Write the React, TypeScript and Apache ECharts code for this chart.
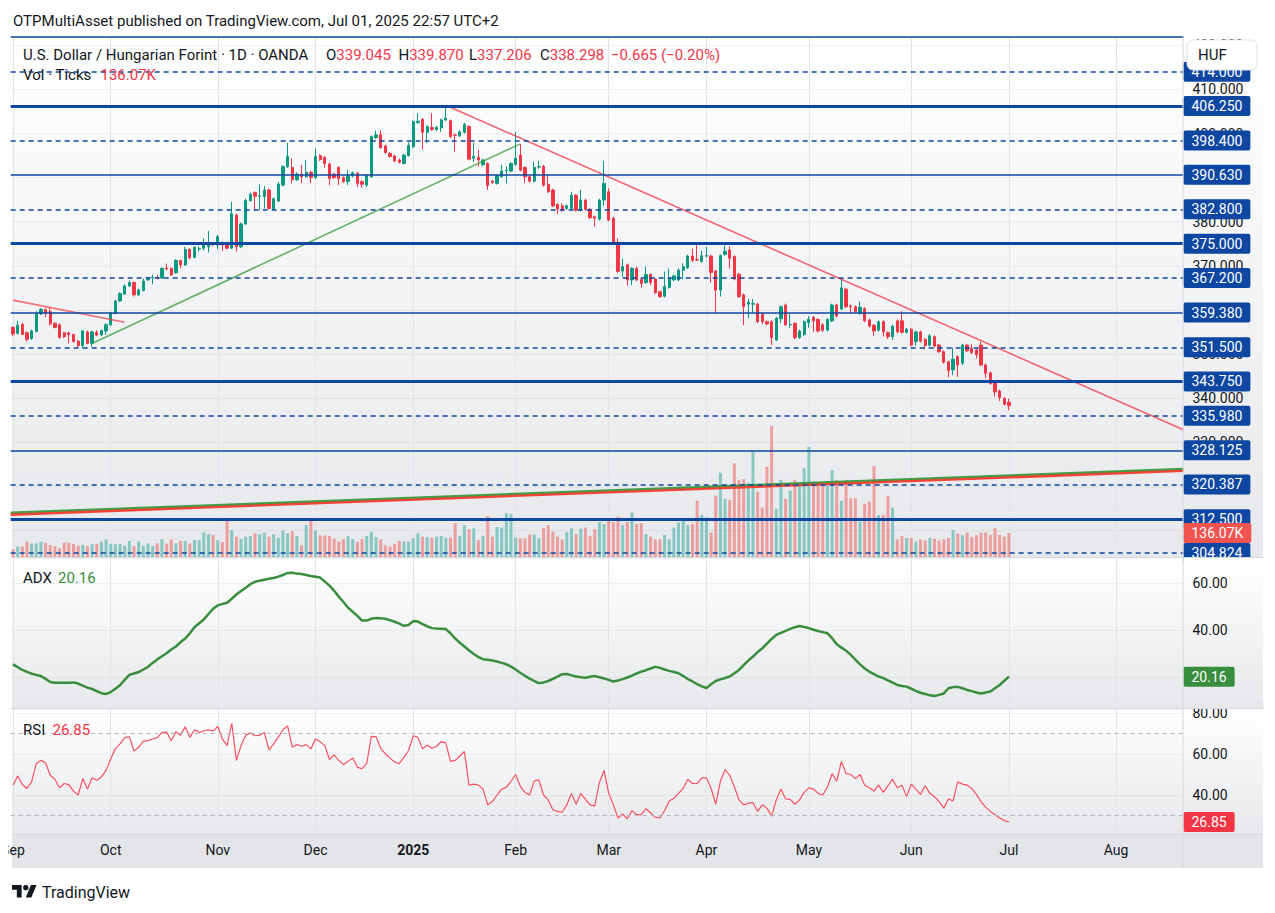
import React, { useEffect, useRef } from 'react';
import * as echarts from 'echarts';

// ---------- data ----------
const START_DATE = '2024-09-02';
const HOLIDAYS = ['2024-12-25', '2025-01-01'];
const CATEGORY_COUNT = 252;
const MONTH_NAMES = ['Jan', 'Feb', 'Mar', 'Apr', 'May', 'Jun', 'Jul', 'Aug', 'Sep', 'Oct', 'Nov', 'Dec'];

// [open, close, low, high]
const CANDLES: number[][] = [
  [356.0,354.5,354.0,356.3],[354.7,356.5,354.4,357.5],[356.7,354.4,354.3,357.0],[354.8,353.3,352.8,355.1],[353.5,355.2,353.2,355.5],
  [355.1,359.2,354.9,359.7],[359.1,360.1,358.8,360.4],[360.1,359.2,358.4,360.3],[359.6,356.8,356.5,360.5],[356.9,356.0,355.8,357.2],
  [356.6,353.7,353.5,356.9],[354.8,353.9,353.6,355.0],[354.8,354.4,352.4,355.0],[354.4,352.8,352.6,354.6],[352.9,351.9,351.4,353.2],
  [351.9,355.2,351.3,355.4],[355.0,352.4,352.2,355.3],[352.4,355.0,351.6,355.3],[354.9,354.3,354.0,355.4],[354.3,355.3,354.1,355.5],
  [355.2,356.6,354.3,357.0],[356.6,359.2,356.4,359.5],[359.2,362.0,359.0,362.3],[362.0,363.7,361.8,364.0],[363.6,365.4,363.4,365.8],
  [365.4,366.2,365.2,366.7],[366.2,363.4,363.0,366.4],[363.4,364.5,363.2,364.8],[364.4,366.5,364.2,367.1],[366.8,367.0,366.6,367.5],
  [367.3,367.4,365.8,368.0],[367.3,367.2,366.9,367.9],[367.2,369.4,367.0,369.6],[369.5,369.3,369.0,370.5],[369.4,367.9,367.7,369.6],
  [368.4,371.2,368.2,371.5],[371.2,370.2,369.4,371.4],[370.2,373.7,370.0,374.3],[373.7,371.8,371.5,374.0],[371.9,374.2,371.7,374.4],
  [373.8,373.9,373.2,374.4],[374.0,374.9,373.5,376.2],[374.3,375.2,373.0,377.9],[375.1,374.8,374.5,375.3],[374.7,376.6,373.8,377.0],
  [374.8,374.7,373.3,375.5],[374.9,374.0,373.7,375.2],[374.0,381.8,373.8,384.5],[381.5,374.3,373.2,381.8],[374.3,379.5,374.0,379.8],
  [379.5,384.8,379.3,385.2],[384.8,386.2,384.6,386.6],[386.6,385.8,382.6,386.9],[385.8,385.9,382.6,388.5],[385.7,387.2,383.0,388.1],
  [387.2,383.0,382.8,387.5],[382.9,385.2,382.7,385.5],[384.7,388.5,384.5,389.0],[388.3,392.5,388.0,392.8],[392.5,394.8,392.2,397.9],
  [392.3,389.5,388.7,394.4],[389.5,390.8,389.2,391.2],[390.8,390.2,388.7,392.9],[390.2,391.2,390.0,394.0],[391.2,390.0,388.7,391.5],
  [390.0,394.8,389.7,396.6],[395.0,394.1,393.8,395.3],[394.6,393.2,392.3,394.9],[393.1,389.8,388.3,393.4],[390.8,390.0,389.7,391.1],
  [392.3,389.8,388.3,392.6],[390.0,389.1,388.8,390.3],[389.1,390.4,388.3,391.7],[390.4,391.1,390.1,391.4],[391.0,388.7,387.9,391.3],
  [389.1,388.5,387.7,389.4],[388.3,390.4,387.9,390.7],[390.2,399.3,390.0,399.6],[399.1,399.7,398.8,400.7],[399.7,396.8,396.5,400.8],
  [397.2,395.7,395.4,397.5],[395.5,394.8,394.5,395.8],[394.9,393.8,393.5,395.2],[394.0,393.5,393.2,394.3],[393.2,395.1,393.0,395.4],
  [395.0,397.3,394.8,398.0],[397.0,402.7,396.8,403.0],[402.5,402.8,402.2,404.6],[403.2,400.3,396.4,403.5],[400.3,401.6,397.8,401.9],
  [401.4,400.9,400.6,404.6],[400.9,401.4,400.6,401.7],[401.3,403.1,400.4,403.4],[403.1,403.5,402.8,406.3],[402.9,399.3,399.0,403.2],
  [399.7,399.6,395.9,400.0],[399.5,400.4,399.2,400.7],[400.3,402.1,400.0,402.4],[401.6,394.2,393.9,401.9],[394.4,394.8,393.5,397.9],
  [394.6,394.0,392.5,396.3],[392.9,394.0,392.6,394.3],[393.2,388.2,387.2,393.5],[389.2,388.9,388.6,389.5],[388.7,390.4,388.4,390.7],
  [390.2,391.5,390.0,392.9],[391.6,391.7,388.7,392.6],[391.5,393.2,391.2,393.5],[393.0,394.4,392.7,400.4],[395.1,391.7,391.4,397.6],
  [392.3,390.2,388.7,392.6],[390.2,389.2,388.9,390.5],[389.2,392.3,388.9,393.6],[392.4,392.5,392.0,393.8],[392.6,388.3,388.0,392.9],
  [388.5,386.8,386.5,390.7],[387.2,383.6,383.3,387.5],[383.9,382.9,381.7,384.2],[383.6,382.6,382.3,384.2],[383.0,383.6,382.7,383.9],
  [383.0,386.0,382.7,386.8],[386.0,382.6,382.3,386.3],[382.6,384.9,382.3,387.2],[384.9,382.8,382.5,385.2],[382.8,380.9,380.6,383.1],
  [381.1,380.8,378.9,381.4],[380.6,384.9,380.3,385.2],[384.9,388.7,383.6,393.8],[386.8,380.4,380.1,387.6],[380.8,375.1,374.8,381.1],
  [375.3,368.7,368.4,376.2],[368.8,369.8,367.5,371.6],[370.2,366.8,365.5,370.5],[366.8,369.4,365.6,369.7],[369.4,366.8,366.5,369.7],
  [366.9,366.0,365.0,367.2],[366.2,368.0,365.9,369.8],[368.0,366.2,365.6,368.3],[367.0,363.9,363.6,367.3],[364.1,363.0,362.7,364.4],
  [363.1,365.3,362.8,368.7],[365.1,367.2,364.8,369.4],[366.8,367.7,366.5,368.0],[366.8,369.0,366.5,369.4],[369.0,369.8,367.0,370.6],
  [369.6,372.2,369.3,372.5],[372.2,371.2,370.9,373.9],[371.4,371.3,371.1,374.7],[371.0,372.3,370.7,373.4],[372.2,372.3,371.9,374.3],
  [372.2,368.5,366.2,372.5],[368.8,364.5,359.2,369.1],[364.5,372.3,363.0,372.6],[372.6,373.3,372.3,374.6],[373.6,371.7,369.4,374.4],
  [372.1,367.0,366.7,372.4],[368.1,363.0,362.7,368.4],[363.4,360.7,356.5,363.7],[361.3,361.7,358.1,362.5],[361.3,361.4,359.2,362.5],
  [361.3,357.3,357.0,361.6],[359.0,357.3,356.8,359.3],[357.3,356.8,356.5,357.6],[357.3,353.7,352.0,357.6],[353.2,358.1,352.9,358.4],
  [358.0,360.7,357.0,361.0],[361.1,356.6,356.3,361.4],[356.6,356.7,355.9,359.3],[356.9,353.7,353.4,357.2],[353.7,355.2,353.4,355.5],
  [354.4,357.3,354.1,357.6],[357.1,357.9,355.9,358.6],[358.3,357.5,355.0,358.6],[357.8,355.2,354.9,358.1],[356.6,355.4,355.0,357.0],
  [355.4,357.8,355.1,358.1],[357.5,361.1,357.2,361.4],[361.1,358.6,358.3,361.4],[360.2,365.0,359.9,366.9],[364.7,360.7,360.4,365.0],
  [360.9,360.7,359.2,361.2],[360.7,359.6,359.3,361.0],[359.2,360.6,358.9,361.9],[360.3,357.5,357.2,360.6],[357.7,356.3,356.0,358.0],
  [356.5,355.2,354.1,356.8],[355.4,357.3,355.1,357.6],[357.3,355.0,353.9,357.6],[354.8,353.9,353.4,355.1],[353.9,356.3,353.2,356.6],
  [357.5,355.0,354.7,357.8],[357.5,354.9,354.6,359.7],[354.9,355.6,354.6,355.9],[355.6,352.0,351.7,355.9],[352.8,355.0,351.8,355.3],
  [355.0,352.9,352.6,355.3],[353.3,351.9,351.0,353.6],[352.0,354.1,351.7,354.5],[353.9,351.8,351.5,354.2],[352.0,350.5,350.2,352.3],
  [350.5,348.1,347.8,350.8],[348.2,346.2,344.7,348.5],[346.4,348.8,345.2,351.4],[349.4,347.5,344.8,349.7],[347.9,352.0,347.5,352.3],
  [352.0,350.7,350.4,352.3],[351.3,350.3,350.0,352.2],[350.9,349.8,349.0,351.2],[352.0,347.5,347.2,352.8],[347.5,345.6,344.5,347.8],
  [345.7,343.3,343.0,346.0],[343.7,341.4,340.3,344.0],[341.6,340.1,339.3,341.9],[339.9,338.6,338.3,340.2],[339.045,338.298,337.206,339.87],
];

// volume in thousands of ticks
const VOLUMES_K: number[] = [
  45,59,59,87,77,77,87,81,68,62, 49,81,81,74,64,68,62,74,74,87,
  100,74,72,74,64,91,62,87,64,77, 62,77,102,74,100,77,91,91,77,96,
  96,140,130,125,96,85,204,153,115,104, 115,119,134,130,138,115,129,110,151,134,
  147,119,66,181,206,149,123,123,119,104, 87,100,119,102,87,102,119,142,112,100,
  66,59,74,91,87,87,106,134,115,113, 108,115,119,108,110,191,119,180,157,163,
  96,119,232,115,170,166,248,244,110,106, 106,127,127,106,164,180,144,115,100,140,
  163,130,161,166,119,157,198,187,219,198, 229,180,198,253,187,191,130,115,100,100,
  125,100,166,195,219,180,187,319,238,225, 138,348,478,331,323,531,437,442,421,597,
  370,280,512,743,274,437,329,376,437,406, 503,624,408,421,408,403,493,437,318,437,
  333,333,200,301,314,516,238,238,346,280, 100,119,108,108,87,100,93,108,104,93,
  100,108,153,134,123,138,113,123,138,138, 125,164,125,115,136.07,
];

const ADX: number[] = [
  25.4,24.2,23.0,22.2,21.4,20.9,20.4,19.2,17.9,17.6, 17.6,17.6,17.6,17.7,17.2,16.3,15.5,14.9,14.0,13.1,
  12.8,13.6,15.0,16.5,18.8,20.9,21.5,22.1,23.2,24.3, 26.0,27.5,28.8,30.1,31.7,33.0,34.8,36.4,38.6,41.2,
  42.9,44.5,46.8,49.0,50.5,51.1,51.6,53.3,55.1,56.6, 58.0,59.5,60.5,61.0,61.4,61.8,62.1,62.7,63.4,64.3,
  64.4,64.0,63.8,63.4,63.0,62.7,62.3,60.6,58.9,56.7, 54.2,51.9,49.5,47.7,46.0,44.0,44.0,44.8,45.1,45.0,
  44.8,44.2,43.5,42.7,41.8,42.1,43.8,43.6,42.5,41.6, 40.8,40.6,40.5,40.4,38.6,36.4,34.6,33.0,31.3,29.8,
  28.5,27.6,27.3,27.0,26.6,26.0,25.4,24.4,23.2,21.8, 20.5,19.3,18.3,17.4,17.7,18.3,19.2,20.2,21.2,21.3,
  20.7,20.2,19.9,19.7,20.1,20.4,19.9,19.4,18.8,18.1, 18.5,19.1,19.8,20.6,21.5,22.3,22.9,23.6,24.3,23.9,
  23.2,22.6,22.1,21.6,20.4,19.1,18.1,17.0,16.0,15.3, 16.9,18.3,19.0,19.6,20.2,21.6,23.0,25.1,27.0,28.7,
  30.6,32.2,34.2,36.2,37.9,38.8,39.6,40.5,41.2,41.7, 41.3,40.8,40.1,39.6,39.1,38.6,36.5,33.9,32.5,31.2,
  29.4,27.4,25.4,23.6,22.3,21.2,20.2,19.5,18.6,17.6, 16.6,16.2,15.9,15.0,14.1,13.3,12.8,12.2,11.9,12.4,
  13.0,15.2,15.7,15.8,15.2,14.5,14.0,13.4,13.0,13.4, 13.8,15.2,16.6,18.4,20.16,
];

const RSI: number[] = [
  44.8,49.3,45.1,43.2,46.4,55.3,56.9,55.7,49.6,47.7, 43.5,45.6,45.1,41.9,40.0,48.0,42.9,48.4,47.2,48.8,
  52.0,57.7,62.5,64.9,68.0,68.4,61.4,63.3,66.3,66.5, 67.3,68.0,70.5,70.8,66.5,70.8,69.2,73.3,68.1,71.8,
  70.5,71.2,71.8,71.3,73.4,67.3,64.1,75.0,56.9,64.1, 69.2,70.2,68.9,69.2,70.5,62.0,64.9,68.1,71.8,73.7,
  63.3,64.6,63.8,64.6,62.5,67.3,66.0,64.1,57.3,59.6, 56.9,54.9,56.4,58.0,53.5,52.9,55.3,68.6,68.4,62.8,
  60.1,58.0,56.1,55.3,58.5,61.7,68.9,68.1,62.5,64.4, 62.8,63.8,66.0,65.4,56.4,56.9,59.0,61.2,44.8,45.3,
  44.8,42.9,35.2,36.8,40.0,42.9,43.7,46.7,50.0,44.3, 41.3,40.0,46.9,47.4,40.0,37.6,32.8,32.0,31.6,35.2,
  40.8,35.5,40.8,37.9,35.2,34.7,46.1,52.0,40.8,35.2, 28.8,30.7,28.4,32.4,30.4,30.4,33.3,31.2,29.2,28.8,
  32.3,37.1,38.4,40.8,43.2,47.7,45.6,45.6,48.4,48.4, 43.2,35.5,46.7,52.4,49.6,44.0,37.6,35.2,36.0,36.3,
  32.0,35.2,33.6,29.6,37.6,42.9,38.1,37.9,35.5,37.6, 41.3,43.5,42.9,40.8,40.0,44.0,50.4,46.7,56.4,50.4,
  50.0,48.0,50.0,44.8,43.5,41.9,44.8,41.3,44.5, 47.7,43.5,44.8,39.2,45.3,42.9,40.3,44.5,40.8,39.2,
  36.8,33.6,38.1,37.1,46.4,45.3,44.8,43.2,40.3,36.8, 34.1,32.0,30.4,28.8,27.5,26.85,
];

// horizontal levels: value, kind, label
const LEVEL_VALUES = [421.875, 414.0, 406.25, 398.4, 390.63, 382.8, 375.0, 367.2, 359.38, 351.5, 343.75, 335.98, 328.125, 320.387, 312.5, 304.824];
const LEVEL_KINDS = ['thin', 'dash', 'thick', 'dash', 'thin', 'dash', 'thick', 'dash', 'thin', 'dash', 'thick', 'dash', 'thin', 'dash', 'thick', 'dash'];
const LEVEL_LABELS = ['', '414.000', '406.250', '398.400', '390.630', '382.800', '375.000', '367.200', '359.380', '351.500', '343.750', '335.980', '328.125', '320.387', '312.500', '304.824'];

// trend lines: [bar index, price]
const TREND_RED_SHORT = [[0, 362.2], [24, 357.2]];
const TREND_GREEN = [[17.2, 352.5], [108.9, 397.6]];
const TREND_RED_LONG = [[93, 406.4], [251.5, 332.8]];
const CHANNEL_GREEN = [[-0.5, 314.0], [251.5, 323.93]];
const CHANNEL_RED = [[-0.5, 313.58], [251.5, 323.52]];

const PRICE_MIN = 303.92, PRICE_MAX = 421.91;
const VOL_MAX_K = 2948;
const ADX_MIN = 6.81, ADX_MAX = 70.64;
const RSI_MIN = 20.98, RSI_MAX = 81.95;
const RSI_BANDS = [70, 30];

const LAST_VOL = '136.07K';
const LAST_ADX = 20.16;
const LAST_RSI = 26.85;

// ---------- styles ----------
const FONT = 'Roboto, "Noto Sans", Arial, sans-serif';
const TEXT = '#131722';
const BLUE = '#0D47A1';
const UP = '#089981';
const DOWN = '#F23645';
const VOL_UP = 'rgba(38,166,154,0.5)';
const VOL_DOWN = 'rgba(239,83,80,0.5)';
const ADX_COLOR = '#388E3C';
const RSI_COLOR = '#F7525F';
const SEP = '#d6d8de';
const GRID_LINE = 'rgba(42,46,57,0.06)';
const CLEAR = 'rgba(0,0,0,0)';

const GRID_LEFT = 10.67;
const BAR_STEP = 4.654;

function buildDates(): string[] {
  const out: string[] = [];
  const d = new Date(START_DATE + 'T00:00:00Z');
  while (out.length < CATEGORY_COUNT) {
    const wd = d.getUTCDay();
    const s = d.toISOString().slice(0, 10);
    if (wd !== 0 && wd !== 6 && HOLIDAYS.indexOf(s) < 0) out.push(s);
    d.setUTCDate(d.getUTCDate() + 1);
  }
  return out;
}

function grad(top: string, bottom: string) {
  return new echarts.graphic.LinearGradient(0, 0, 0, 1, [
    { offset: 0, color: top },
    { offset: 1, color: bottom },
  ]);
}

function multipleOf(v: number, step: number) {
  return Math.abs(v - Math.round(v / step) * step) < 1e-6;
}

function buildOption(): any {
  const dates = buildDates();
  const monthStarts: number[] = [];
  dates.forEach((d, i) => {
    if (i === 0 || d.slice(0, 7) !== dates[i - 1].slice(0, 7)) monthStarts.push(i);
  });
  const monthSet = new Set(monthStarts);
  const W = dates.length * BAR_STEP;
  const xMaxVal = dates.length - 0.5;

  const grids = [
    { left: GRID_LEFT, top: 37, width: W, height: 520 },
    { left: GRID_LEFT, top: 558, width: W, height: 150 },
    { left: GRID_LEFT, top: 709, width: W, height: 125 },
  ].map((g) => ({ ...g, containLabel: false, outerBoundsMode: 'none', show: false }));

  const catAxis = (gridIndex: number, showLabels: boolean) => ({
    type: 'category',
    gridIndex,
    data: dates,
    boundaryGap: true,
    axisLine: { show: false },
    axisTick: { show: false },
    splitLine: { show: false },
    axisLabel: showLabels
      ? {
          show: true,
          interval: (i: number) => monthSet.has(i),
          margin: 9,
          color: TEXT,
          fontSize: 14,
          fontFamily: FONT,
          formatter: (v: string) => {
            const m = parseInt(v.slice(5, 7), 10);
            return m === 1 ? '{b|' + v.slice(0, 4) + '}' : MONTH_NAMES[m - 1];
          },
          rich: { b: { fontWeight: 'bold', fontSize: 14, color: TEXT, fontFamily: FONT } },
        }
      : { show: false },
  });
  const valXAxis = (gridIndex: number) => ({
    type: 'value', gridIndex, min: -0.5, max: xMaxVal, show: false,
  });

  const rightAxis = (gridIndex: number, min: number, max: number, splitNumber: number, step: number, digits: number) => ({
    type: 'value',
    gridIndex,
    position: 'right',
    min,
    max,
    splitNumber,
    axisLine: { show: false },
    axisTick: { show: false },
    splitLine: { show: true, lineStyle: { color: GRID_LINE, width: 1 } },
    axisLabel: {
      show: true,
      margin: 9,
      color: TEXT,
      fontSize: 14,
      fontFamily: FONT,
      showMinLabel: false,
      showMaxLabel: false,
      formatter: (v: number) => (multipleOf(v, step) ? v.toFixed(digits) : ''),
    },
  });

  const boxLabel = (text: string, bg: string) => ({
    show: true,
    position: 'end',
    distance: 0,
    formatter: text,
    color: '#ffffff',
    backgroundColor: bg,
    borderRadius: 2,
    padding: [3, 8, 3, 8],
    fontSize: 14,
    lineHeight: 14,
    fontFamily: FONT,
    opacity: 1,
  });

  const hiddenLine = { color: CLEAR, width: 1, type: 'solid', opacity: 1 };

  const levelLines = LEVEL_VALUES.map((v, i) => {
    const kind = LEVEL_KINDS[i];
    return {
      yAxis: v,
      lineStyle: {
        color: BLUE,
        width: kind === 'thick' ? 3 : 1.5,
        type: kind === 'dash' ? [5, 4] : 'solid',
        opacity: 1,
      },
      label: LEVEL_LABELS[i] ? boxLabel(LEVEL_LABELS[i], BLUE) : { show: false },
    };
  });

  const vGrid = (xAxisIndex: number, yAxisIndex: number, min: number, max: number) => ({
    type: 'lines',
    coordinateSystem: 'cartesian2d',
    xAxisIndex,
    yAxisIndex,
    silent: true,
    z: 1,
    polyline: false,
    lineStyle: { color: '#e3e4e8', width: 1, opacity: 1 },
    data: monthStarts.map((i) => ({ coords: [[i, min], [i, max]] })),
  });

  const trend = (data: number[][], color: string, width: number, opacity: number) => ({
    type: 'line',
    xAxisIndex: 3,
    yAxisIndex: 0,
    data,
    symbol: 'none',
    silent: true,
    z: 4,
    lineStyle: { color, width, opacity },
  });

  const volData = VOLUMES_K.map((v, i) => ({
    value: v,
    itemStyle: { color: CANDLES[i] && CANDLES[i][1] >= CANDLES[i][0] ? VOL_UP : VOL_DOWN },
  }));

  const bgLeft = 12, bgW = 1251;
  const graphic: any[] = [
    { type: 'rect', z: -10, silent: true, shape: { x: bgLeft, y: 37, width: bgW, height: 521 }, style: { fill: grad('#ffffff', '#e7e8eb') } },
    { type: 'rect', z: -10, silent: true, shape: { x: bgLeft, y: 558, width: bgW, height: 151 }, style: { fill: grad('#ffffff', '#e7e8eb') } },
    { type: 'rect', z: -10, silent: true, shape: { x: bgLeft, y: 709, width: bgW, height: 125 }, style: { fill: grad('#ffffff', '#e7e8eb') } },
    { type: 'rect', z: -10, silent: true, shape: { x: bgLeft, y: 834, width: bgW, height: 34 }, style: { fill: '#e4e5e8' } },
    // clip panels at the right axis
    { type: 'rect', z: 60, silent: true, shape: { x: 1183.5, y: 558, width: 80, height: 12 }, style: { fill: '#ffffff' } },
    { type: 'rect', z: 60, silent: true, shape: { x: 1183.5, y: 700, width: 80, height: 8.5 }, style: { fill: '#e7e8eb' } },
    // separators
    { type: 'line', z: 61, silent: true, shape: { x1: bgLeft, y1: 557.5, x2: 1263, y2: 557.5 }, style: { stroke: SEP, lineWidth: 1 } },
    { type: 'line', z: 61, silent: true, shape: { x1: bgLeft, y1: 708.5, x2: 1263, y2: 708.5 }, style: { stroke: SEP, lineWidth: 1 } },
    { type: 'line', z: 61, silent: true, shape: { x1: bgLeft, y1: 834.5, x2: 1263, y2: 834.5 }, style: { stroke: SEP, lineWidth: 1 } },
    { type: 'line', z: 61, silent: true, shape: { x1: 1183, y1: 37, x2: 1183, y2: 868 }, style: { stroke: SEP, lineWidth: 1 } },
    // hide part of first month label at far left
    { type: 'rect', z: 60, silent: true, shape: { x: 0, y: 838, width: 8.5, height: 26 }, style: { fill: '#ffffff' } },
    // header
    { type: 'text', z: 100, x: 13, y: 21, style: { text: 'OTPMultiAsset published on TradingView.com, Jul 01, 2025 22:57 UTC+2', fill: TEXT, fontSize: 15, fontFamily: FONT, verticalAlign: 'middle' } },
    { type: 'text', z: 100, x: 23, y: 54.5, style: { text: 'U.S. Dollar / Hungarian Forint · 1D · OANDA', fill: TEXT, fontSize: 15, fontFamily: FONT, verticalAlign: 'middle' } },
  ];
  const ohlc = [['O', '339.045', 326], ['H', '339.870', 398.5], ['L', '337.206', 469], ['C', '338.298', 540]];
  ohlc.forEach(([k, v, x]) => {
    graphic.push({
      type: 'text', z: 100, x, y: 54.5,
      style: {
        text: '{k|' + k + '}{v|' + v + '}',
        verticalAlign: 'middle',
        rich: {
          k: { fill: TEXT, fontSize: 15, fontFamily: FONT },
          v: { fill: DOWN, fontSize: 15, fontFamily: FONT },
        },
      },
    });
  });
  graphic.push(
    { type: 'text', z: 100, x: 611, y: 54.5, style: { text: '−0.665 (−0.20%)', fill: DOWN, fontSize: 15, fontFamily: FONT, verticalAlign: 'middle' } },
    { type: 'text', z: 100, x: 23, y: 75, style: { text: 'Vol · Ticks', fill: TEXT, fontSize: 15, fontFamily: FONT, verticalAlign: 'middle' } },
    { type: 'text', z: 100, x: 100.5, y: 75, style: { text: LAST_VOL, fill: DOWN, fontSize: 15, fontFamily: FONT, verticalAlign: 'middle' } },
    { type: 'text', z: 100, x: 23, y: 577.5, style: { text: 'ADX', fill: TEXT, fontSize: 15, fontFamily: FONT, verticalAlign: 'middle' } },
    { type: 'text', z: 100, x: 58, y: 577.5, style: { text: LAST_ADX.toFixed(2), fill: ADX_COLOR, fontSize: 15, fontFamily: FONT, verticalAlign: 'middle' } },
    { type: 'text', z: 100, x: 23, y: 729.5, style: { text: 'RSI', fill: TEXT, fontSize: 15, fontFamily: FONT, verticalAlign: 'middle' } },
    { type: 'text', z: 100, x: 52.5, y: 729.5, style: { text: LAST_RSI.toFixed(2), fill: DOWN, fontSize: 15, fontFamily: FONT, verticalAlign: 'middle' } },
    // currency box
    { type: 'rect', z: 100, shape: { x: 1187, y: 40, width: 70, height: 30, r: 6 }, style: { fill: '#ffffff', stroke: '#e0e3eb', lineWidth: 1 } },
    { type: 'text', z: 101, x: 1198, y: 55, style: { text: 'HUF', fill: TEXT, fontSize: 15, fontFamily: FONT, verticalAlign: 'middle' } },
    // footer logo
    { type: 'polygon', z: 100, x: 12, y: 882.2, scaleX: 0.69, scaleY: 0.69, shape: { points: [[14, 22], [7, 22], [7, 11], [0, 11], [0, 4], [14, 4]] }, style: { fill: TEXT } },
    { type: 'polygon', z: 100, x: 12, y: 882.2, scaleX: 0.69, scaleY: 0.69, shape: { points: [[28, 22], [20, 22], [27.5, 4], [35.5, 4]] }, style: { fill: TEXT } },
    { type: 'circle', z: 100, x: 12, y: 882.2, scaleX: 0.69, scaleY: 0.69, shape: { cx: 20, cy: 8, r: 4 }, style: { fill: TEXT } },
    { type: 'text', z: 100, x: 42, y: 892, style: { text: 'TradingView', fill: TEXT, fontSize: 16, fontFamily: FONT, verticalAlign: 'middle' } },
  );

  return {
    animation: false,
    backgroundColor: '#ffffff',
    textStyle: { fontFamily: FONT },
    grid: grids,
    xAxis: [catAxis(0, false), catAxis(1, false), catAxis(2, true), valXAxis(0), valXAxis(1), valXAxis(2)],
    yAxis: [
      rightAxis(0, PRICE_MIN, PRICE_MAX, 12, 10, 3),
      { type: 'value', gridIndex: 0, min: 0, max: VOL_MAX_K, show: false },
      rightAxis(1, ADX_MIN, ADX_MAX, 3, 20, 2),
      rightAxis(2, RSI_MIN, RSI_MAX, 3, 20, 2),
    ],
    graphic,
    series: [
      vGrid(3, 0, PRICE_MIN, PRICE_MAX),
      vGrid(4, 2, ADX_MIN, ADX_MAX),
      vGrid(5, 3, RSI_MIN, RSI_MAX),
      {
        type: 'candlestick',
        name: 'USDHUF',
        xAxisIndex: 0,
        yAxisIndex: 0,
        barWidth: 2.8,
        z: 3,
        data: CANDLES.map((c) => [c[0], c[1], c[2], c[3]]),
        itemStyle: { color: UP, color0: DOWN, borderColor: UP, borderColor0: DOWN, borderWidth: 1 },
        markLine: {
          silent: true,
          symbol: ['none', 'none'],
          animation: false,
          precision: 3,
          data: levelLines,
        },
      },
      {
        type: 'bar',
        name: 'Vol',
        xAxisIndex: 0,
        yAxisIndex: 1,
        barWidth: 3,
        z: 2,
        data: volData,
        markLine: {
          silent: true,
          symbol: ['none', 'none'],
          animation: false,
          lineStyle: hiddenLine,
          data: [{ yAxis: VOLUMES_K[VOLUMES_K.length - 1], lineStyle: hiddenLine, label: boxLabel(LAST_VOL, '#F05350') }],
        },
      },
      trend(TREND_RED_SHORT, '#F23645', 1.6, 0.7),
      trend(TREND_GREEN, '#43A047', 1.6, 0.8),
      trend(TREND_RED_LONG, '#F23645', 1.6, 0.75),
      trend(CHANNEL_RED, '#F44336', 3, 1),
      trend(CHANNEL_GREEN, '#3a9a3e', 2, 0.95),
      {
        type: 'line',
        name: 'ADX',
        xAxisIndex: 1,
        yAxisIndex: 2,
        data: ADX,
        symbol: 'none',
        z: 3,
        lineStyle: { color: ADX_COLOR, width: 2.5 },
        markLine: {
          silent: true,
          symbol: ['none', 'none'],
          animation: false,
          lineStyle: hiddenLine,
          data: [{ yAxis: LAST_ADX, lineStyle: hiddenLine, label: boxLabel(LAST_ADX.toFixed(2), ADX_COLOR) }],
        },
      },
      {
        type: 'line',
        name: 'RSI',
        xAxisIndex: 2,
        yAxisIndex: 3,
        data: RSI,
        symbol: 'none',
        z: 3,
        lineStyle: { color: RSI_COLOR, width: 1.2 },
        markLine: {
          silent: true,
          symbol: ['none', 'none'],
          animation: false,
          data: [
            ...RSI_BANDS.map((b) => ({ yAxis: b, lineStyle: { color: '#b2b5be', width: 1, type: [4, 4], opacity: 1 }, label: { show: false } })),
            { yAxis: LAST_RSI, lineStyle: hiddenLine, label: boxLabel(LAST_RSI.toFixed(2), DOWN) },
          ],
        },
      },
    ],
  };
}

export default function App() {
  const ref = useRef<HTMLDivElement>(null);
  useEffect(() => {
    document.body.style.margin = '0';
    const el = ref.current;
    if (!el) return;
    const chart = echarts.init(el, undefined, { renderer: 'svg' });
    chart.setOption(buildOption());
    return () => {
      chart.dispose();
    };
  }, []);
  return <div ref={ref} style={{ width: 1275, height: 913 }} />;
}
